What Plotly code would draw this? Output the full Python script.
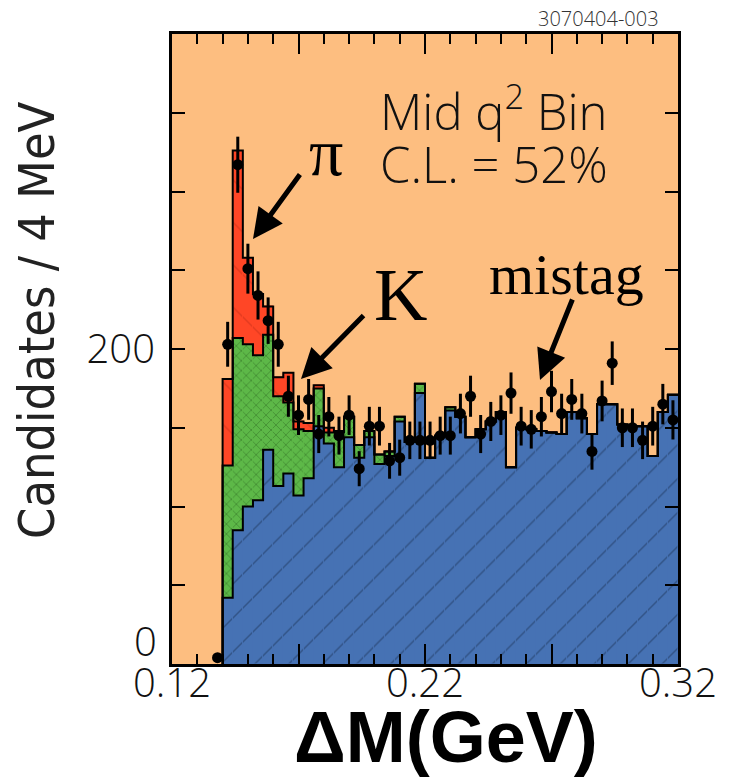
import numpy as np
import plotly.graph_objects as go

# ---------------- data ----------------
bin_lo = 0.140      # first histogram edge (GeV)
bin_w = 0.004       # 4 MeV bins
# background (mistag / combinatoric) component, blue
blue = [42, 85, 100, 104, 136, 113, 121, 107, 118, 151, 140, 125, 144, 131, 144,
        127, 132, 154, 141, 172, 131, 145, 161, 157, 144, 149, 154, 160, 125, 150,
        149, 148, 147, 146, 160, 156, 146, 165, 165, 152, 151, 151, 132, 160, 171]
# K component, green
kaon = [84, 122, 103, 92, 73, 57, 45, 42, 30, 24, 7, 22, 13, 8, 4,
        6, 3, 3, 0, 6, 0, 0, 2, 0, 0, 0, 0, 0, 0, 0,
        0, 0, 0, 0, 0, 0, 0, 0, 0, 0, 0, 0, 0, 0, 0]
# pi component, red
pion = [55, 119, 55, 39, 18, 12, 19, 5, 5, 2, 3, 1, 0, 0, 0,
        0, 0, 0, 0, 0, 0, 0, 0, 0, 0, 0, 0, 0, 0, 0,
        0, 0, 0, 0, 0, 0, 0, 0, 0, 0, 0, 0, 0, 0, 0]
# data points (first point is the bin just below 0.140)
data_lo = 0.136
data_n = [4, 203, 317, 251, 234, 218, 203, 170, 158, 168, 146, 157, 145, 158, 124,
          151, 151, 129, 131, 142, 142, 142, 145, 145, 159, 170, 146, 154, 158, 172,
          151, 149, 157, 173, 159, 168, 159, 135, 167, 191, 150, 150, 142, 151, 165, 155]

x_ticks = [0.12, 0.17, 0.22, 0.27, 0.32]
x_ticktext = ["0.12", "", "0.22", "", "0.32"]
y_ticks = [0, 50, 100, 150, 200, 250, 300, 350, 400]
y_ticktext = ["", "", "", "", "200", "", "", "", ""]

# ---------------- derived ----------------
nb = len(blue)
edges = bin_lo + bin_w * np.arange(nb + 1)
centers = edges[:-1] + bin_w / 2
blue_a = np.array(blue, float)
green_top = blue_a + np.array(kaon, float)
total_top = green_top + np.array(pion, float)
data_x = data_lo + bin_w / 2 + bin_w * np.arange(len(data_n))
data_y = np.array(data_n, float)
data_err = np.sqrt(data_y)

BG = "#FDBE80"
BLUE = "#4672B4"
GREEN = "#5DB848"
RED = "#FF4626"

fig = go.Figure()
fig.add_bar(x=centers, y=blue, width=bin_w, marker=dict(
    color=BLUE, line=dict(width=0.6, color=BLUE),
    pattern=dict(shape="/", fgcolor="#1E3358", size=24, solidity=0.06)),
    showlegend=False, hoverinfo="skip")
fig.add_bar(x=centers, y=kaon, width=bin_w, marker=dict(
    color=GREEN, line=dict(width=0.6, color=GREEN),
    pattern=dict(shape="x", fgcolor="#2E6A22", size=7, solidity=0.25)),
    showlegend=False, hoverinfo="skip")
fig.add_bar(x=centers, y=pion, width=bin_w, marker=dict(
    color=RED, line=dict(width=0.6, color=RED),
    pattern=dict(shape="\\", fgcolor="#C83018", size=30, solidity=0.05)),
    showlegend=False, hoverinfo="skip")

def step(tops):
    xs = [edges[0]] + list(edges[:-1]) + [edges[-1]]
    ys = [0] + list(tops) + [tops[-1]]
    return xs, ys

for tops in (blue_a, green_top, total_top):
    xs, ys = step(tops)
    fig.add_scatter(x=xs, y=ys, mode="lines", line=dict(shape="hv", color="black", width=2),
                    showlegend=False, hoverinfo="skip")

fig.add_scatter(x=data_x, y=data_y, mode="markers",
                marker=dict(color="black", size=11, symbol="circle"),
                error_y=dict(type="data", array=data_err, color="black", thickness=3, width=0),
                showlegend=False)

tickfont = dict(family="Open Sans, DejaVu Sans", size=40, color="#111111", weight=300)

fig.update_layout(
    width=732, height=779,
    margin=dict(l=172, r=54, t=34, b=115),
    paper_bgcolor="white", plot_bgcolor=BG,
    barmode="stack", bargap=0,
    xaxis=dict(range=[0.12, 0.32], tickvals=x_ticks, ticktext=x_ticktext,
               ticks="inside", ticklen=20, tickwidth=2, tickcolor="black",
               minor=dict(dtick=0.01, tick0=0.12, ticks="inside", ticklen=10,
                          tickwidth=2, tickcolor="black", showgrid=False),
               showline=True, linecolor="black", linewidth=3, mirror="ticks",
               showgrid=False, zeroline=False, tickfont=tickfont,
               ticklabelstandoff=-18),
    yaxis=dict(range=[0, 400], tickvals=y_ticks, ticktext=y_ticktext,
               ticks="inside", ticklen=13, tickwidth=2, tickcolor="black",
               showline=True, linecolor="black", linewidth=3, mirror="ticks",
               showgrid=False, zeroline=False, tickfont=tickfont,
               ticklabelstandoff=6),
)

serif = "Liberation Serif, Times New Roman, serif"
sans_l = dict(family="Open Sans, DejaVu Sans", size=49, color="#111111", weight=300)
annos = [
    dict(text="3070404-003", x=(598 - 172) / 506, y=(664 - 18) / 630,
         font=dict(family="Open Sans, DejaVu Sans", size=20, color="#333333", weight=300)),
    dict(text="Mid q<sup>2</sup> Bin", x=(378 - 172) / 506, y=(664 - 108) / 630,
         xanchor="left", font=sans_l),
    dict(text="C.L. = 52%", x=(378 - 172) / 506, y=(664 - 164) / 630,
         xanchor="left", font=sans_l),
    dict(text="π", x=(326 - 172) / 506, y=(664 - 152) / 630,
         font=dict(family=serif, size=68, color="black")),
    dict(text="K", x=(400 - 172) / 506, y=(664 - 295) / 630,
         font=dict(family=serif, size=74, color="black")),
    dict(text="mistag", x=(566 - 172) / 506, y=(664 - 274) / 630,
         font=dict(family=serif, size=58, color="black")),
    dict(text="0", x=(145 - 172) / 506, y=(664 - 640) / 630, font=tickfont),
    dict(text="ΔM(GeV)", x=(446 - 172) / 506, y=(664 - 737) / 630,
         font=dict(family="Liberation Sans, Arial", size=72, color="black", weight="bold")),
    dict(text="Candidates / 4 MeV", x=(37 - 172) / 506, y=(664 - 320) / 630, textangle=-90,
         font=dict(family="DejaVu Sans Condensed, Liberation Sans Narrow", size=50,
                   color="#222222", weight=200)),
]
for a in annos:
    a.update(xref="paper", yref="paper", showarrow=False)
    a.setdefault("xanchor", "center")
    a.setdefault("yanchor", "middle")
    fig.add_annotation(**a)

arrows = [((253, 239), (301, 173)), ((301, 379), (365, 314)), ((540, 380), (573, 298))]
for (tx, ty), (sx, sy) in arrows:
    fig.add_annotation(x=(tx - 172) / 506, y=(664 - ty) / 630, xref="paper", yref="paper",
                       ax=sx - tx, ay=sy - ty, text="", showarrow=True,
                       arrowhead=2, arrowsize=1.2, arrowwidth=5, arrowcolor="black")

fig.write_html("out.html")
